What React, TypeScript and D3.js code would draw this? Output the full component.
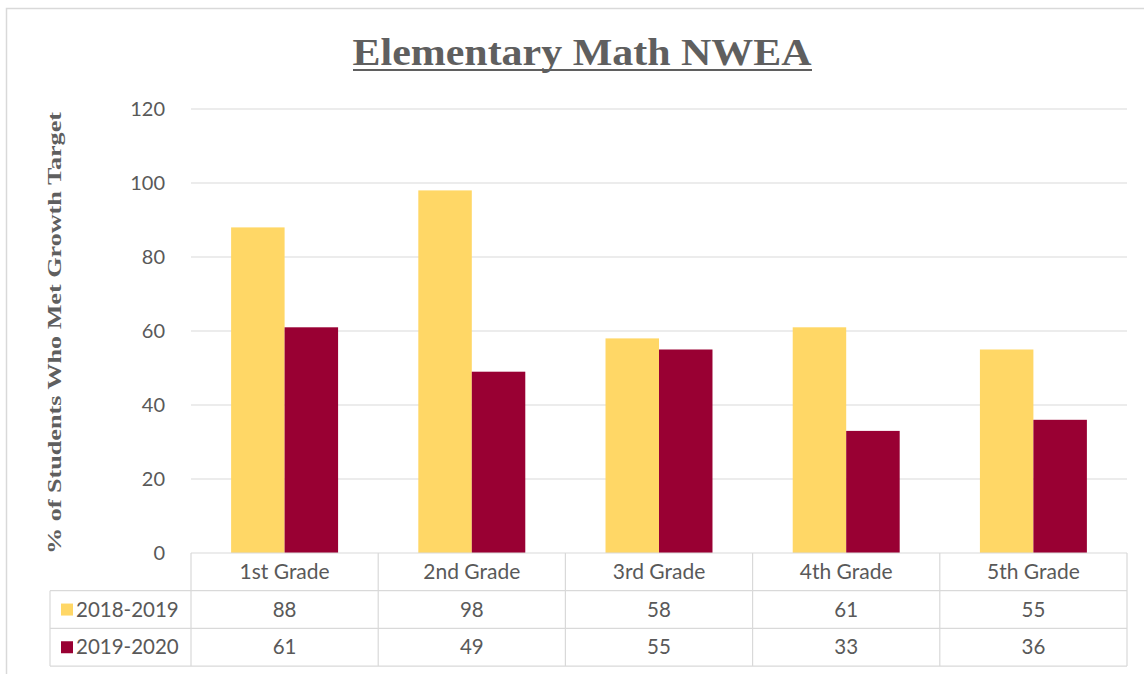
import React from "react";
import * as d3 from "d3";

const grades = ["1st Grade", "2nd Grade", "3rd Grade", "4th Grade", "5th Grade"];
const seriesNames = ["2018-2019", "2019-2020"];
const values2018 = [88, 98, 58, 61, 55];
const values2020 = [61, 49, 55, 33, 36];
const yTicks = [0, 20, 40, 60, 80, 100, 120];
const colors = ["#FFD766", "#990033"];

const W = 1144;
const H = 674;
const plotLeft = 191;
const plotRight = 1127;
const plotTop = 109;
const plotBottom = 553;
const rowH = 37.7;
const tableLeft = 50;
const gray = "#595959";
const gridColor = "#D9D9D9";
const sansFont = "Lato, 'Open Sans', sans-serif";
const serifFont = "'Liberation Serif', 'DejaVu Serif', serif";

export default function App() {
  const y = d3.scaleLinear().domain([0, 120]).range([plotBottom, plotTop]);
  const x0 = d3.scaleBand<string>().domain(grades).range([plotLeft, plotRight]).padding(0);
  const bw = x0.bandwidth();
  const gap = bw * (1.5 / 3.5);
  const x1 = d3
    .scaleBand<string>()
    .domain(seriesNames)
    .range([gap / 2, bw - gap / 2])
    .padding(0);
  const seriesValues = [values2018, values2020];

  const rowY = [plotBottom, plotBottom + rowH, plotBottom + 2 * rowH, plotBottom + 3 * rowH];

  return (
    <svg
      width={W}
      height={H}
      style={{ position: "absolute", left: 0, top: 0, background: "#fff" }}
    >
      <rect x={6.5} y={8.5} width={W + 10} height={H + 10} fill="#fff" stroke="#D9D9D9" strokeWidth={1.5} />

      {/* Title */}
      <text
        x={582}
        y={65}
        textAnchor="middle"
        fontFamily={serifFont}
        fontWeight="bold"
        fontSize={37}
        fill="#5f5f5f"
        textLength={459}
        lengthAdjust="spacingAndGlyphs"
      >
        Elementary Math NWEA
      </text>
      <line x1={353} x2={812} y1={70} y2={70} stroke="#5f5f5f" strokeWidth={2} />

      {/* Y axis label */}
      <text
        transform={`translate(61, ${(plotTop + plotBottom) / 2 + 2}) rotate(-90)`}
        textAnchor="middle"
        fontFamily={serifFont}
        fontWeight="bold"
        fontSize={19}
        fill="#5f5f5f"
        textLength={442}
        lengthAdjust="spacingAndGlyphs"
      >
        % of Students Who Met Growth Target
      </text>

      {/* Gridlines */}
      {yTicks.map((t) => (
        <g key={t}>
          {t > 0 && (
            <line x1={plotLeft} x2={plotRight} y1={y(t)} y2={y(t)} stroke={gridColor} strokeWidth={1.2} />
          )}
          <text
            x={165}
            y={y(t)}
            dy="0.35em"
            textAnchor="end"
            fontFamily={sansFont}
            fontSize={20}
            fill={gray}
          >
            {t}
          </text>
        </g>
      ))}

      {/* Bars */}
      {grades.map((g, gi) => (
        <g key={g} transform={`translate(${x0(g)},0)`}>
          {seriesNames.map((s, si) => {
            const v = seriesValues[si][gi];
            return (
              <rect
                key={s}
                x={x1(s)}
                y={y(v)}
                width={x1.bandwidth()}
                height={y(0) - y(v)}
                fill={colors[si]}
              />
            );
          })}
        </g>
      ))}

      {/* Data table */}
      <g stroke={gridColor} strokeWidth={1.2} fill="none">
        <line x1={plotLeft} x2={plotRight} y1={rowY[0]} y2={rowY[0]} />
        <line x1={tableLeft} x2={plotRight} y1={rowY[1]} y2={rowY[1]} />
        <line x1={tableLeft} x2={plotRight} y1={rowY[2]} y2={rowY[2]} />
        <line x1={tableLeft} x2={plotRight} y1={rowY[3]} y2={rowY[3]} />
        <line x1={tableLeft} x2={tableLeft} y1={rowY[1]} y2={rowY[3]} />
        {grades.map((g) => (
          <line key={g} x1={x0(g)} x2={x0(g)} y1={rowY[0]} y2={rowY[3]} />
        ))}
        <line x1={plotRight} x2={plotRight} y1={rowY[0]} y2={rowY[3]} />
      </g>

      {grades.map((g) => (
        <text
          key={g}
          x={(x0(g) as number) + bw / 2}
          y={(rowY[0] + rowY[1]) / 2}
          dy="0.35em"
          textAnchor="middle"
          fontFamily={sansFont}
          fontSize={21}
          fill={gray}
        >
          {g}
        </text>
      ))}

      {seriesNames.map((s, si) => (
        <g key={s}>
          <rect
            x={61}
            y={(rowY[si + 1] + rowY[si + 2]) / 2 - 6}
            width={12}
            height={12}
            fill={colors[si]}
          />
          <text
            x={76}
            y={(rowY[si + 1] + rowY[si + 2]) / 2}
            dy="0.35em"
            fontFamily={sansFont}
            fontSize={20.5}
            fill={gray}
          >
            {s}
          </text>
          {grades.map((g, gi) => (
            <text
              key={g}
              x={(x0(g) as number) + bw / 2}
              y={(rowY[si + 1] + rowY[si + 2]) / 2}
              dy="0.35em"
              textAnchor="middle"
              fontFamily={sansFont}
              fontSize={20.5}
              fill={gray}
            >
              {seriesValues[si][gi]}
            </text>
          ))}
        </g>
      ))}
    </svg>
  );
}
